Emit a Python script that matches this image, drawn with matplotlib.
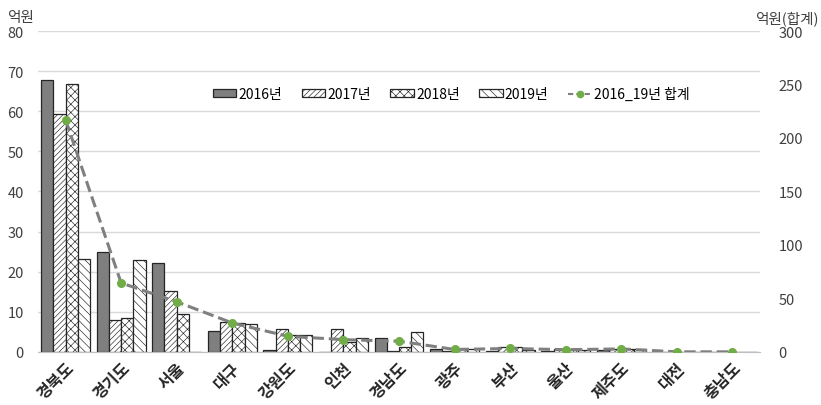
import numpy as np
import matplotlib
matplotlib.use("Agg")
import matplotlib.pyplot as plt
from matplotlib.lines import Line2D

plt.rcParams['font.family'] = ['Noto Sans CJK KR', 'DejaVu Sans']
plt.rcParams['hatch.linewidth'] = 0.45

regions = ["경북도", "경기도", "서울", "대구", "강원도", "인천", "경남도",
           "광주", "부산", "울산", "제주도", "대전", "충남도"]
y2016 = [67.8, 25.0, 22.2, 5.2, 0.5, 0.0, 3.4, 0.6, 0.1, 0.3, 0.5, 0.0, 0.0]
y2017 = [59.2, 8.0, 15.2, 7.5, 5.6, 5.6, 0.3, 0.3, 1.3, 0.6, 0.6, 0.0, 0.0]
y2018 = [66.8, 8.4, 9.4, 7.3, 4.2, 2.4, 1.2, 0.6, 1.3, 0.6, 0.8, 0.0, 0.0]
y2019 = [23.2, 23.0, 0.0, 7.0, 4.2, 3.4, 5.0, 0.7, 0.4, 0.5, 0.8, 0.0, 0.0]
total = [217.0, 64.4, 46.8, 27.0, 14.5, 11.4, 9.9, 2.2, 3.1, 2.0, 2.7, 0.0, 0.0]

series = [("2016년", y2016, "#7f7f7f", None),
          ("2017년", y2017, "white", "//////"),
          ("2018년", y2018, "white", "xxxx"),
          ("2019년", y2019, "white", "\\\\\\\\")]

fig = plt.figure(figsize=(8.21, 4.06), dpi=100)
ax = fig.add_axes([0.046, 0.131, 0.88, 0.79])
x = np.arange(len(regions))
w = 0.22

handles = []
for i, (name, vals, fc, hatch) in enumerate(series):
    b = ax.bar(x + (i - 1.5) * w, vals, w, color=fc, edgecolor="#262626",
               linewidth=0.9, hatch=hatch, label=name, zorder=2)
    handles.append(b)

ax.set_xlim(-0.5, len(regions) - 0.5)
ax.set_ylim(0, 80)
ax.set_yticks(range(0, 81, 10))
ax.grid(axis="y", color="#d9d9d9", linewidth=1, zorder=0)
ax.set_axisbelow(True)
for s in ["top", "right", "left"]:
    ax.spines[s].set_visible(False)
ax.spines["bottom"].set_color("#bfbfbf")
ax.tick_params(axis="y", length=0, labelsize=10.5, colors="#404040", pad=10)
ax.tick_params(axis="x", length=0, pad=5)
ax.set_xticks(x)
ax.set_xticklabels(regions, rotation=45, ha="right", rotation_mode="anchor",
                   fontsize=11.5, fontweight="bold", color="#262626")

ax2 = ax.twinx()
ax2.plot(x, total, linestyle="--", color="#808080", linewidth=2.2,
         marker="o", markersize=5.5, markerfacecolor="#70ad47",
         markeredgecolor="#70ad47", zorder=3)
ax2.set_ylim(0, 300)
ax2.set_yticks(range(0, 301, 50))
for s in ax2.spines.values():
    s.set_visible(False)
ax2.tick_params(axis="y", length=0, labelsize=10.5, colors="#404040", pad=13)

line_h = Line2D([], [], linestyle="--", color="#808080", linewidth=1.5,
                dashes=(2.5, 1.5), marker="o", markersize=4.5,
                markerfacecolor="#70ad47", markeredgecolor="#70ad47")
ax.legend(handles + [line_h], [s[0] for s in series] + ["2016_19년 합계"],
          ncol=5, frameon=False, loc="center", bbox_to_anchor=(0.572, 0.804),
          fontsize=10, handlelength=1.7, handleheight=0.55, handletextpad=0.15,
          columnspacing=1.4)

fig.text(0.008, 0.955, "억원", fontsize=10.5, color="#404040", va="center")
fig.text(0.997, 0.955, "억원(합계)", fontsize=10.5, color="#404040",
         va="center", ha="right")

fig.savefig("out.png", dpi=100)
